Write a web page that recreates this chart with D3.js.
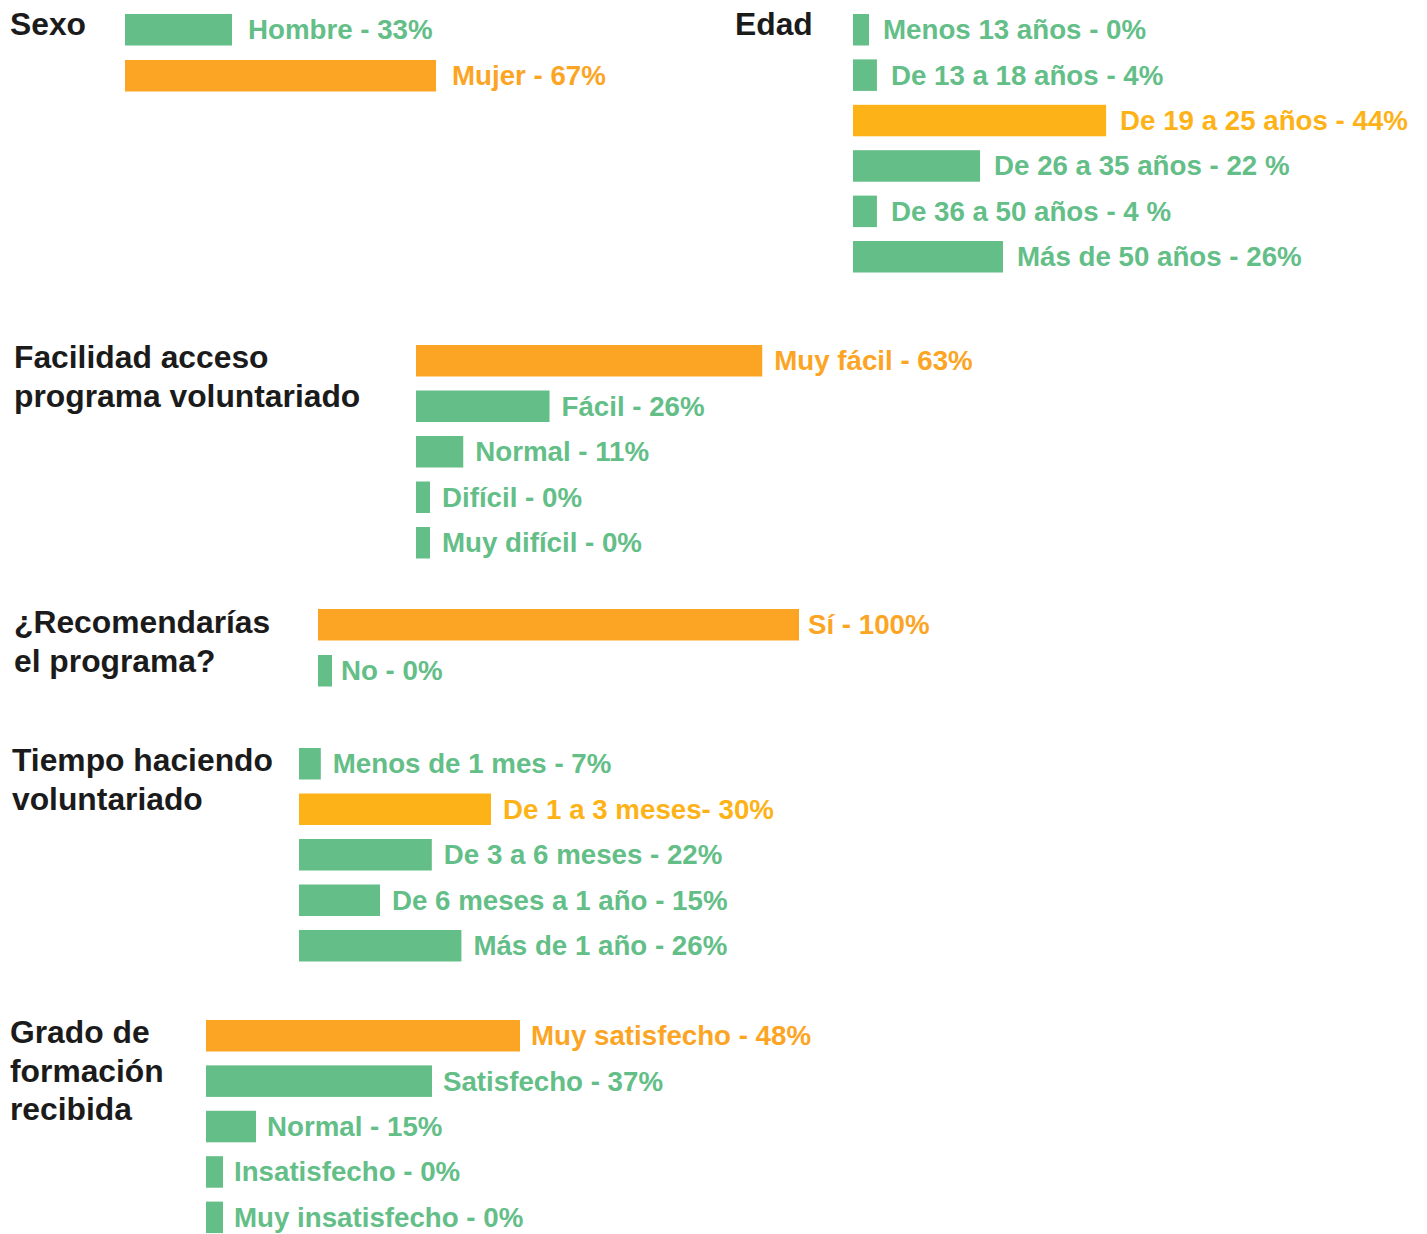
<!DOCTYPE html>
<html>
<head>
<meta charset="utf-8">
<script src="https://cdn.jsdelivr.net/npm/d3@7"></script>
<style>
  html, body { margin: 0; padding: 0; background: #ffffff; }
  svg { display: block; }
  text { font-family: "Liberation Sans", Arial, "Helvetica Neue", sans-serif; font-weight: bold; }
</style>
</head>
<body>
<svg id="chart" width="1427" height="1234"></svg>
<script>
// ---------- DATA ----------
const sexoTitle = ["Sexo"];
const sexoCats = ["Hombre", "Mujer"];
const sexoVals = [33, 67];
const sexoLabels = ["Hombre - 33%", "Mujer - 67%"];
const sexoHi = ["green", "orange"];

const edadTitle = ["Edad"];
const edadCats = ["Menos 13 años", "De 13 a 18 años", "De 19 a 25 años", "De 26 a 35 años", "De 36 a 50 años", "Más de 50 años"];
const edadVals = [0, 4, 44, 22, 4, 26];
const edadLabels = ["Menos 13 años - 0%", "De 13 a 18 años - 4%", "De 19 a 25 años - 44%", "De 26 a 35 años - 22 %", "De 36 a 50 años - 4 %", "Más de 50 años - 26%"];
const edadHi = ["green", "green", "yellow", "green", "green", "green"];

const faciTitle = ["Facilidad acceso", "programa voluntariado"];
const faciCats = ["Muy fácil", "Fácil", "Normal", "Difícil", "Muy difícil"];
const faciVals = [63, 26, 11, 0, 0];
const faciLabels = ["Muy fácil - 63%", "Fácil - 26%", "Normal - 11%", "Difícil - 0%", "Muy difícil - 0%"];
const faciHi = ["orange", "green", "green", "green", "green"];

const recoTitle = ["¿Recomendarías", "el programa?"];
const recoCats = ["Sí", "No"];
const recoVals = [100, 0];
const recoLabels = ["Sí - 100%", "No - 0%"];
const recoHi = ["orange", "green"];

const tiemTitle = ["Tiempo haciendo", "voluntariado"];
const tiemCats = ["Menos de 1 mes", "De 1 a 3 meses", "De 3 a 6 meses", "De 6 meses a 1 año", "Más de 1 año"];
const tiemVals = [7, 30, 22, 15, 26];
const tiemLabels = ["Menos de 1 mes - 7%", "De 1 a 3 meses- 30%", "De 3 a 6 meses - 22%", "De 6 meses a 1 año - 15%", "Más de 1 año - 26%"];
const tiemHi = ["green", "yellow", "green", "green", "green"];

const gradTitle = ["Grado de", "formación", "recibida"];
const gradCats = ["Muy satisfecho", "Satisfecho", "Normal", "Insatisfecho", "Muy insatisfecho"];
const gradVals = [48, 37, 15, 0, 0];
const gradLabels = ["Muy satisfecho - 48%", "Satisfecho - 37%", "Normal - 15%", "Insatisfecho - 0%", "Muy insatisfecho - 0%"];
const gradHi = ["orange", "green", "green", "green", "green"];

// ---------- STYLE / LAYOUT ----------
const COLORS = { green: "#63be87", orange: "#fca524", yellow: "#fdb318" };
const TITLE_COLOR = "#1b1b1b";

const groups = [
  { title: sexoTitle, cats: sexoCats, vals: sexoVals, labels: sexoLabels, hi: sexoHi,
    tx: 10, ty: 35, x0: 125, y0: 14, step: 46, range: [-91, 509], minW: 14, gap: 16 },
  { title: edadTitle, cats: edadCats, vals: edadVals, labels: edadLabels, hi: edadHi,
    tx: 735, ty: 35, x0: 853, y0: 14, step: 45.4, range: [1, 574], minW: 16, gap: 14 },
  { title: faciTitle, cats: faciCats, vals: faciVals, labels: faciLabels, hi: faciHi,
    tx: 14, ty: 368, x0: 416, y0: 345, step: 45.5, range: [-16, 559], minW: 14, gap: 12 },
  { title: recoTitle, cats: recoCats, vals: recoVals, labels: recoLabels, hi: recoHi,
    tx: 14, ty: 633, x0: 318, y0: 609, step: 46, range: [0, 481], minW: 14, gap: 9 },
  { title: tiemTitle, cats: tiemCats, vals: tiemVals, labels: tiemLabels, hi: tiemHi,
    tx: 12, ty: 771, x0: 299, y0: 748, step: 45.5, range: [-30, 710], minW: 14, gap: 12 },
  { title: gradTitle, cats: gradCats, vals: gradVals, labels: gradLabels, hi: gradHi,
    tx: 10, ty: 1043, x0: 206, y0: 1020, step: 45.4, range: [-70, 730], minW: 17, gap: 11 }
];

const BAR_H = 31.5;
const LABEL_SIZE = 27.7;
const TITLE_SIZE = 31.8;
const TITLE_LH = 38.5;

const svg = d3.select("#chart");

groups.forEach(g => {
  const x = d3.scaleLinear().domain([0, 100]).range(g.range);
  const w = v => Math.max(g.minW, x(v));
  const n = g.cats.length;
  const y = d3.scaleBand()
    .domain(g.cats)
    .range([g.y0, g.y0 + g.step * (n - 1) + BAR_H])
    .paddingInner((g.step - BAR_H) / g.step)
    .paddingOuter(0)
    .align(0);

  const grp = svg.append("g");

  // title
  const t = grp.append("text")
    .attr("x", g.tx)
    .attr("y", g.ty)
    .attr("fill", TITLE_COLOR)
    .style("font-size", TITLE_SIZE + "px");
  g.title.forEach((line, i) => {
    t.append("tspan").attr("x", g.tx).attr("y", g.ty + i * TITLE_LH).text(line);
  });

  const rows = g.cats.map((c, i) => ({ cat: c, val: g.vals[i], label: g.labels[i], color: COLORS[g.hi[i]] }));

  grp.selectAll("rect")
    .data(rows)
    .join("rect")
    .attr("x", g.x0)
    .attr("y", d => y(d.cat))
    .attr("width", d => w(d.val))
    .attr("height", y.bandwidth())
    .attr("fill", d => d.color);

  grp.selectAll("text.lbl")
    .data(rows)
    .join("text")
    .attr("class", "lbl")
    .attr("x", d => g.x0 + w(d.val) + g.gap)
    .attr("y", d => y(d.cat) + y.bandwidth() / 2)
    .attr("dy", "0.34em")
    .attr("fill", d => d.color)
    .style("font-size", LABEL_SIZE + "px")
    .text(d => d.label);
});
</script>
</body>
</html>
